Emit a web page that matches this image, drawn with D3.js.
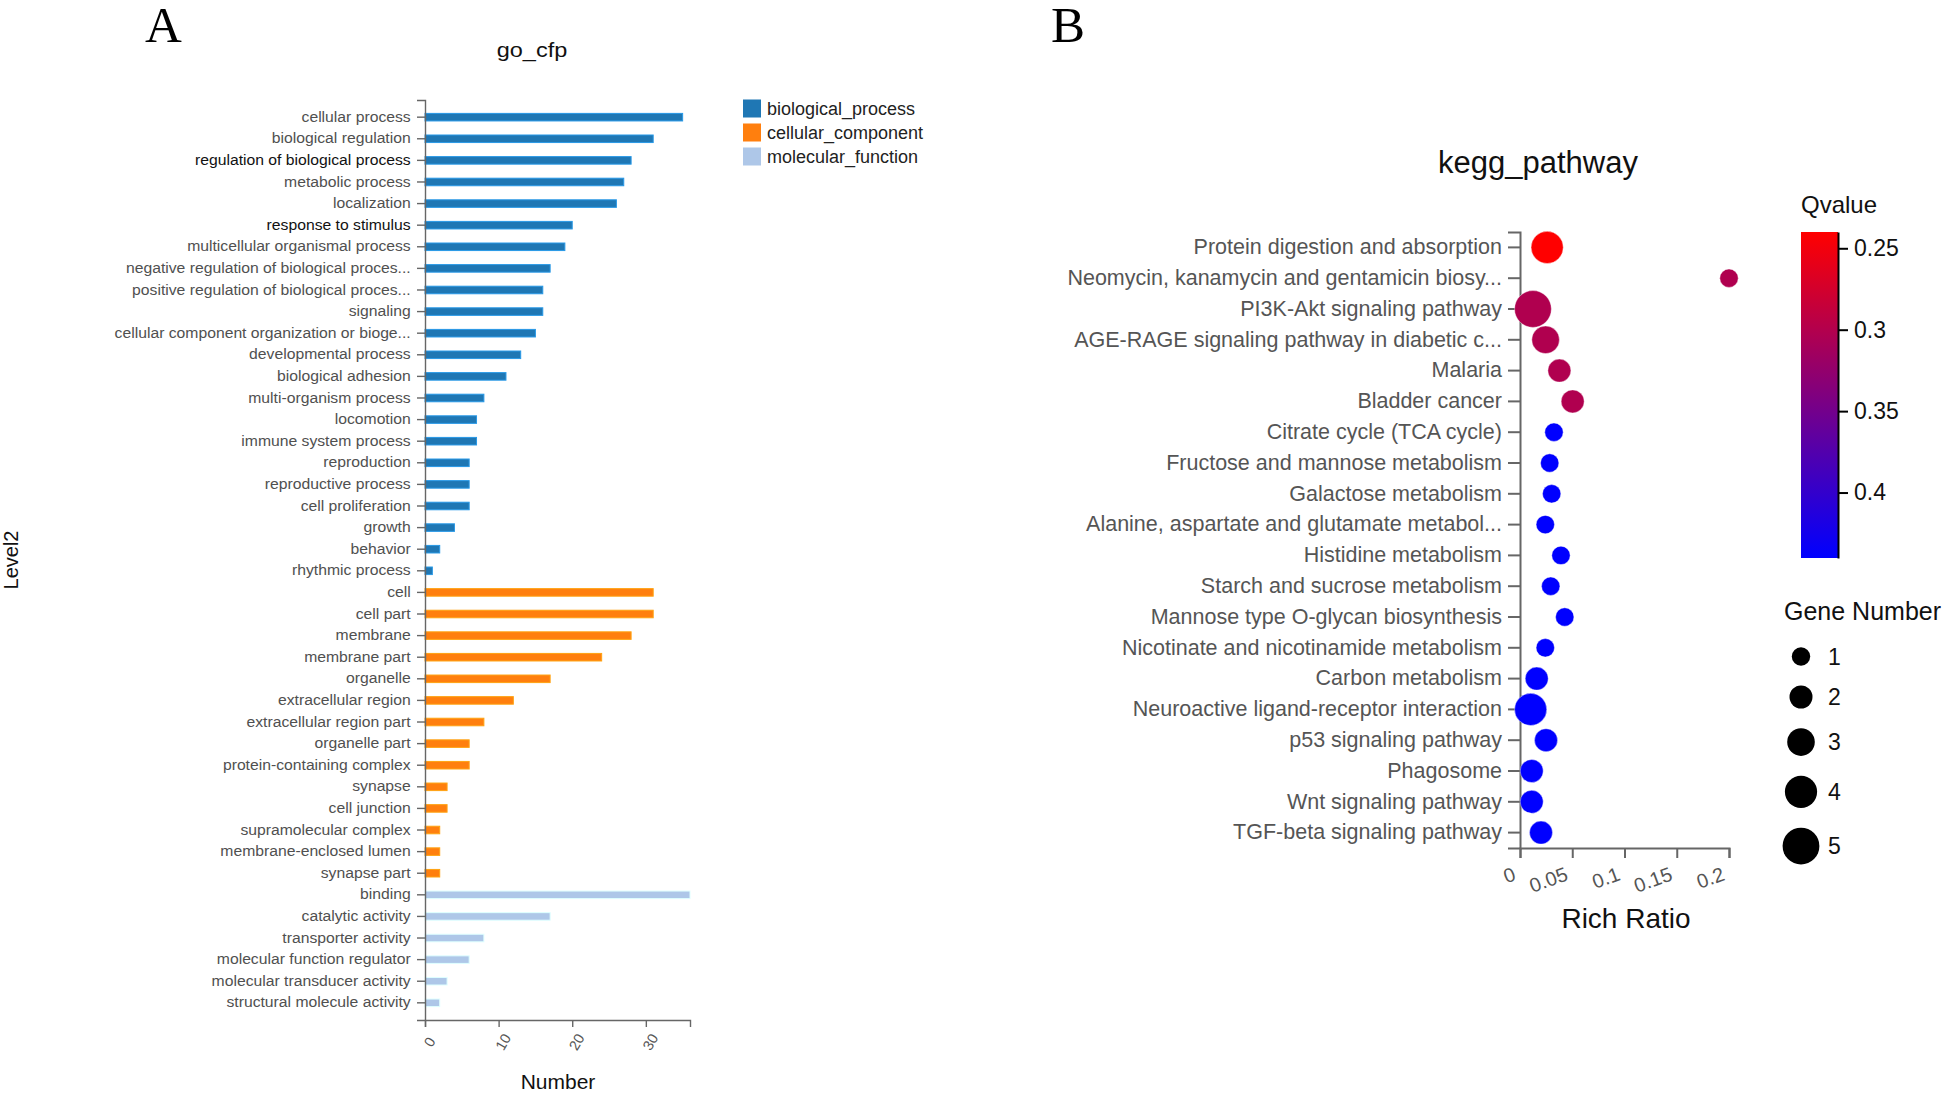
<!DOCTYPE html>
<html><head><meta charset="utf-8">
<script src="https://cdn.jsdelivr.net/npm/d3@7"></script>
<style>
html,body{margin:0;padding:0;background:#fff;}
svg{display:block;font-family:"Liberation Sans",Arial,sans-serif;}
</style></head><body>
<svg id="chart" width="1944" height="1093"></svg>
<script>
// ---------- Panel A data (GO level 2) ----------
const bpTerms = ["cellular process","biological regulation","regulation of biological process","metabolic process","localization","response to stimulus","multicellular organismal process","negative regulation of biological proces...","positive regulation of biological proces...","signaling","cellular component organization or bioge...","developmental process","biological adhesion","multi-organism process","locomotion","immune system process","reproduction","reproductive process","cell proliferation","growth","behavior","rhythmic process"];
const bpCounts = [35,31,28,27,26,20,19,17,16,16,15,13,11,8,7,7,6,6,6,4,2,1];
const ccTerms = ["cell","cell part","membrane","membrane part","organelle","extracellular region","extracellular region part","organelle part","protein-containing complex","synapse","cell junction","supramolecular complex","membrane-enclosed lumen","synapse part"];
const ccCounts = [31,31,28,24,17,12,8,6,6,3,3,2,2,2];
const mfTerms = ["binding","catalytic activity","transporter activity","molecular function regulator","molecular transducer activity","structural molecule activity"];
const mfCounts = [36,17,8,6,3,2];
const ontologyNames = ["biological_process","cellular_component","molecular_function"];
const ontologyColors = ["#1f77b4","#ff7f0e","#aec7e8"];
const numberTicks = [0,10,20,30];

// ---------- Panel B data (KEGG) ----------
const keggPathways = ["Protein digestion and absorption","Neomycin, kanamycin and gentamicin biosy...","PI3K-Akt signaling pathway","AGE-RAGE signaling pathway in diabetic c...","Malaria","Bladder cancer","Citrate cycle (TCA cycle)","Fructose and mannose metabolism","Galactose metabolism","Alanine, aspartate and glutamate metabol...","Histidine metabolism","Starch and sucrose metabolism","Mannose type O-glycan biosynthesis","Nicotinate and nicotinamide metabolism","Carbon metabolism","Neuroactive ligand-receptor interaction","p53 signaling pathway","Phagosome","Wnt signaling pathway","TGF-beta signaling pathway"];
const keggRichRatio = [0.026,0.2,0.0124,0.0245,0.0377,0.0504,0.0325,0.0284,0.0303,0.0242,0.0392,0.0294,0.0428,0.0242,0.016,0.0102,0.0249,0.0112,0.0112,0.0201];
const keggGeneNumber = [4,1,5,3,2,2,1,1,1,1,1,1,1,1,2,4,2,2,2,2];
const keggQvalue = [0.24,0.3023,0.3023,0.3023,0.3023,0.3023,0.4402,0.4402,0.4402,0.4402,0.4402,0.4402,0.4402,0.4402,0.4402,0.4402,0.4402,0.4402,0.4402,0.4402];
const richRatioTicks = [0,0.05,0.1,0.15,0.2];
const qvalueTicks = [0.25,0.3,0.35,0.4];
const geneNumberLegend = [1,2,3,4,5];

const svg = d3.select("#chart");

// ================= Panel A =================
const goRows = [];
[[bpTerms,bpCounts],[ccTerms,ccCounts],[mfTerms,mfCounts]].forEach(([t,c],g)=>{
  t.forEach((term,i)=>goRows.push({term, value:c[i], group:g}));
});
const darkLabels = new Set(["regulation of biological process","response to stimulus"]);

const xA = d3.scaleLinear().domain([0,36]).range([425,690]);
const yA = d3.scaleBand().domain(goRows.map(d=>d.term)).range([100,1020]).paddingInner(0.65).paddingOuter(0.62);

svg.append("text").attr("x",145).attr("y",42)
  .style("font-family","'Liberation Serif','Times New Roman',serif").style("font-size","51px").attr("fill","#000").text("A");
svg.append("text").attr("transform","translate(532,57) scale(1.12,1)").attr("text-anchor","middle")
  .style("font-size","21px").attr("fill","#111").text("go_cfp");

const gA = svg.append("g");
gA.selectAll("rect.bar").data(goRows).join("rect").attr("class","bar")
  .attr("x",xA(0)).attr("y",d=>yA(d.term))
  .attr("width",d=>xA(d.value)-xA(0)).attr("height",yA.bandwidth())
  .attr("fill",d=>ontologyColors[d.group])
  .attr("stroke",d=>d3.color(ontologyColors[d.group]).brighter(0.7)).attr("stroke-width",1);

const yAxisA = gA.append("g").attr("transform",`translate(${xA(0)},0)`)
  .call(d3.axisLeft(yA).tickSize(8).tickPadding(5));
yAxisA.selectAll("path,line").attr("stroke","#666").attr("stroke-width",1.4);
yAxisA.selectAll("text").attr("transform","scale(1.1,1)").style("font-size","14.3px")
  .attr("fill",d=>darkLabels.has(d)?"#111":"#505050");

const xAxisA = gA.append("g").attr("transform","translate(0,1020)")
  .call(d3.axisBottom(xA).tickValues(numberTicks).tickSize(7).tickFormat(d3.format("d")));
xAxisA.selectAll("path,line").attr("stroke","#666").attr("stroke-width",1.4);
xAxisA.selectAll("text").attr("x",0).attr("y",0).attr("dy","0.35em")
  .attr("text-anchor","middle").attr("transform","translate(4,22) rotate(-60)")
  .style("font-size","14.5px").attr("fill","#555");

svg.append("text").attr("transform","translate(18,560) rotate(-90)").attr("text-anchor","middle")
  .style("font-size","20px").attr("fill","#111").text("Level2");
svg.append("text").attr("x",558).attr("y",1089).attr("text-anchor","middle")
  .style("font-size","21px").attr("fill","#111").text("Number");

const legA = svg.append("g");
ontologyNames.forEach((n,i)=>{
  const cy = 108.5 + i*24;
  legA.append("rect").attr("x",743).attr("y",cy-9).attr("width",18).attr("height",18).attr("fill",ontologyColors[i]);
  legA.append("text").attr("x",767).attr("y",cy).attr("dy","0.35em").style("font-size","18px").attr("fill","#222").text(n);
});

// ================= Panel B =================
const keggRows = keggPathways.map((p,i)=>({p, r:keggRichRatio[i], n:keggGeneNumber[i], q:keggQvalue[i]}));
const xB = d3.scaleLinear().domain([0,0.2]).range([1520,1729]);
const yB = d3.scaleBand().domain(keggPathways).range([232,848]);
const rB = d3.scaleLinear().domain([1,5]).range([9.2,18.4]);
const qExt = d3.extent(keggQvalue);
const colorB = d3.scaleLinear().domain(qExt).range(["#ff0000","#0000ff"]);

svg.append("text").attr("x",1051).attr("y",42)
  .style("font-family","'Liberation Serif','Times New Roman',serif").style("font-size","51px").attr("fill","#000").text("B");
svg.append("text").attr("x",1538).attr("y",173).attr("text-anchor","middle")
  .style("font-size","31px").attr("fill","#111").text("kegg_pathway");

const gB = svg.append("g");
const yAxisB = gB.append("g").attr("transform",`translate(${xB(0)},0)`)
  .call(d3.axisLeft(yB).tickSize(12).tickPadding(6));
yAxisB.selectAll("path,line").attr("stroke","#666").attr("stroke-width",2);
yAxisB.selectAll("text").style("font-size","21.5px").attr("fill","#555");

const xAxisB = gB.append("g").attr("transform","translate(0,848)")
  .call(d3.axisBottom(xB).tickValues(richRatioTicks).tickSize(10).tickFormat(d3.format("~g")));
xAxisB.selectAll("path,line").attr("stroke","#666").attr("stroke-width",2);
xAxisB.selectAll("text").attr("x",0).attr("y",0).attr("dy","0.35em")
  .attr("text-anchor","end").attr("transform","translate(-6,25) rotate(-20)")
  .style("font-size","20px").attr("fill","#555");

gB.selectAll("circle.dot").data(keggRows).join("circle").attr("class","dot")
  .attr("cx",d=>xB(d.r)).attr("cy",d=>yB(d.p)+yB.bandwidth()/2)
  .attr("r",d=>rB(d.n)).attr("fill",d=>colorB(d.q))
  .attr("stroke","#fff").attr("stroke-opacity",0.5).attr("stroke-width",0.8);

svg.append("text").attr("x",1626).attr("y",928).attr("text-anchor","middle")
  .style("font-size","28px").attr("fill","#111").text("Rich Ratio");

// colour bar
const qScale = d3.scaleLinear().domain(qExt).range([232,558]);
const grad = svg.append("defs").append("linearGradient").attr("id","qgrad")
  .attr("x1","0").attr("y1","0").attr("x2","0").attr("y2","1");
d3.range(0,1.0001,0.1).forEach(t=>{
  grad.append("stop").attr("offset",t).attr("stop-color",colorB(qExt[0]+t*(qExt[1]-qExt[0])));
});
svg.append("rect").attr("x",1801).attr("y",232).attr("width",37).attr("height",326).attr("fill","url(#qgrad)");
const qAxis = svg.append("g").attr("transform","translate(1838,0)")
  .call(d3.axisRight(qScale).tickValues(qvalueTicks).tickSize(10).tickSizeOuter(0).tickPadding(6).tickFormat(d3.format("~g")));
qAxis.selectAll("path,line").attr("stroke","#000").attr("stroke-width",2);
qAxis.selectAll("text").style("font-size","23px").attr("fill","#111");
svg.append("text").attr("x",1801).attr("y",213).style("font-size","24px").attr("fill","#111").text("Qvalue");

// gene number legend
svg.append("text").attr("x",1784).attr("y",620).style("font-size","25px").attr("fill","#111").text("Gene Number");
let cy = 656.5;
geneNumberLegend.forEach((n,i)=>{
  if(i>0) cy += rB(geneNumberLegend[i-1]) + rB(n) + 19.8;
  svg.append("circle").attr("cx",1801).attr("cy",cy).attr("r",rB(n)).attr("fill","#000");
  svg.append("text").attr("x",1828).attr("y",cy).attr("dy","0.35em").style("font-size","23px").attr("fill","#111").text(n);
});
</script>
</body></html>
